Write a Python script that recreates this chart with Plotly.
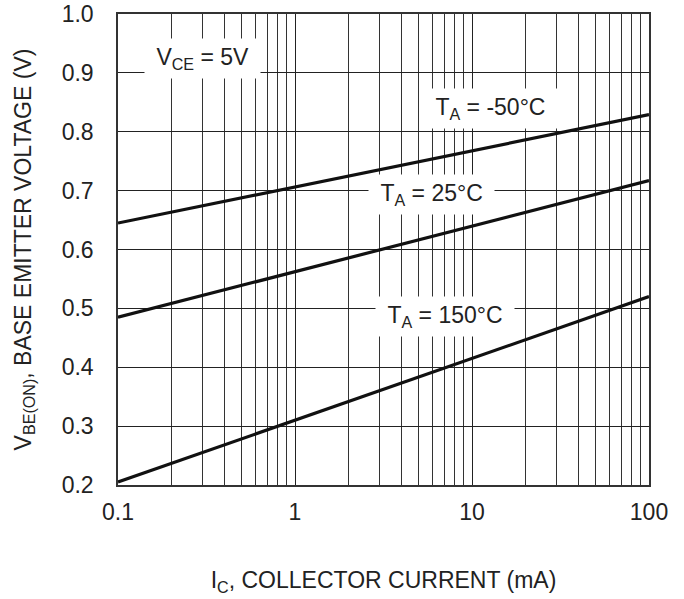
import math
import plotly.graph_objects as go

# Data
ic_ma = [0.1, 100]
vbe_m50 = [0.645, 0.829]
vbe_25 = [0.485, 0.717]
vbe_150 = [0.205, 0.520]

x_major = [0.1, 1, 10, 100]
x_major_labels = ["0.1", "1", "10", "100"]
x_minor = [m * d for d in (0.1, 1, 10) for m in range(2, 10)]
y_ticks = [0.2, 0.3, 0.4, 0.5, 0.6, 0.7, 0.8, 0.9, 1.0]

labels = [
    ("V<sub>CE</sub> = 5V", 0.30, 0.925),
    ("T<sub>A</sub> = -50°C", 12.7, 0.839),
    ("T<sub>A</sub> = 25°C", 5.9, 0.694),
    ("T<sub>A</sub> = 150°C", 7.0, 0.486),
]

FONT = "Liberation Sans, Arial, sans-serif"
FS = 23
fig = go.Figure()
for ys in (vbe_m50, vbe_25, vbe_150):
    fig.add_trace(go.Scatter(x=ic_ma, y=ys, mode="lines",
                             line=dict(color="#111111", width=3.2),
                             showlegend=False, hoverinfo="skip"))

for text, x, y in labels:
    fig.add_annotation(x=math.log10(x), y=y, xref="x", yref="y",
                       text="\u00a0" + text + "\u00a0", showarrow=False,
                       bgcolor="white", borderpad=5,
                       font=dict(family=FONT, size=FS, color="#222222"))

fig.update_xaxes(type="log", range=[-1, 2], tickvals=x_major, ticktext=x_major_labels,
                 showgrid=True, gridcolor="#222222", gridwidth=1.2,
                 minor=dict(tickmode="array", tickvals=x_minor, showgrid=True,
                            gridcolor="#333333", gridwidth=1, ticks=""),
                 showline=True, linecolor="#333333", linewidth=1.5, mirror=True,
                 ticks="", zeroline=False, ticklabelstandoff=6, automargin=False,
                 tickfont=dict(family=FONT, size=FS, color="#222222"),
                 title=dict(text="I<sub>C</sub>, COLLECTOR CURRENT (mA)", standoff=48,
                            font=dict(family=FONT, size=FS, color="#222222")))
fig.update_yaxes(range=[0.2, 1.0], tickvals=y_ticks, tickformat=".1f",
                 showgrid=True, gridcolor="#222222", gridwidth=1.2,
                 showline=True, linecolor="#333333", linewidth=1.5, mirror=True,
                 ticks="", zeroline=False, ticklabelstandoff=18, automargin=False,
                 tickfont=dict(family=FONT, size=FS, color="#222222"),
                 title=dict(text="V<sub>BE(ON)</sub>, BASE EMITTER VOLTAGE (V)", standoff=24,
                            font=dict(family=FONT, size=FS, color="#222222")))

fig.update_layout(width=684, height=599, margin=dict(l=118, r=35, t=14, b=114),
                  paper_bgcolor="white", plot_bgcolor="white")

fig.write_html("out.html")
